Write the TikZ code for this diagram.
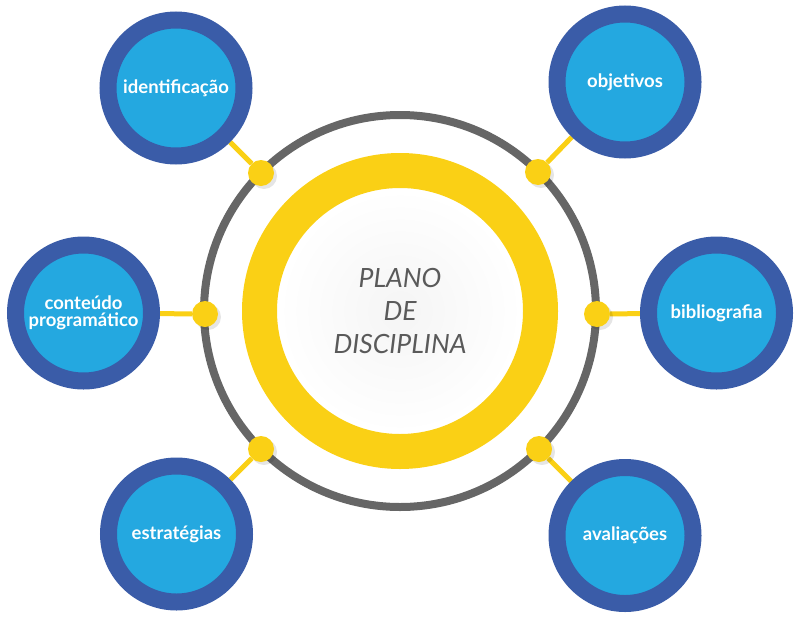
\documentclass[tikz,border=0pt]{standalone}
\usepackage{fontspec}
\setmainfont{Lato}
\usetikzlibrary{backgrounds}
\definecolor{ringblue}{HTML}{3A5CA8}
\definecolor{fillblue}{HTML}{24A8E0}
\definecolor{discyellow}{HTML}{FAD015}
\definecolor{ringgray}{HTML}{666666}
\definecolor{textgray}{HTML}{5A5A5A}
\tikzset{
  topic/.style={circle, fill=fillblue, draw=ringblue, line width=17pt,
    minimum size=136pt, inner sep=0pt, text=white, align=center,
    font=\fontsize{18.5}{17.5}\selectfont\bfseries},
  joint/.style={circle, fill=discyellow, minimum size=26pt, inner sep=0pt},
  spoke/.style={discyellow, line width=5pt},
}
\begin{document}
\begin{tikzpicture}[x=1pt, y=-1pt]
    \useasboundingbox (0,0) rectangle (800,616);
    \coordinate (c) at (400,311);

    % Centre with a faint shade
    \shade[inner color=gray!8, outer color=white] (c) circle[radius=122pt];
    \draw[discyellow, line width=35pt] (c) circle[radius=140.5pt];
    \node[text=textgray, align=center, font=\fontsize{26.5}{33}\selectfont\itshape] (title) at (c) {PLANO\\DE\\DISCIPLINA};

    % Outer ring
    \draw[ringgray, line width=8pt] (c) circle[radius=196pt];

    % Joints on the ring
    \foreach \n/\x/\y in {j1/261/173, j2/538/172, j3/205/314, j4/597/314, j5/261/449, j6/539/449} {
      \fill[black, opacity=0.1] (\x+3,\y+3) circle[radius=13pt];
      \node[joint] (\n) at (\x,\y) {};
    }

    % Topics
    \node[topic] (ident) at (176,88) {identificação};
    \node[topic] (obj) at (625,82) {objetivos};
    \node[topic] (cont) at (83.5,313) {conteúdo\\programático};
    \node[topic] (bib) at (716.5,313) {bibliografia};
    \node[topic] (estr) at (176.5,534) {estratégias};
    \node[topic] (aval) at (625,535.5) {avaliações};

    % Spokes
    \begin{scope}[on background layer]
    \draw[spoke] (j1) -- (ident);
    \draw[spoke] (j2) -- (obj);
    \draw[spoke] (j3) -- (cont);
    \draw[spoke] (j4) -- (bib);
    \draw[spoke] (j5) -- (estr);
    \draw[spoke] (j6) -- (aval);
    \end{scope}
\end{tikzpicture}
\end{document}
